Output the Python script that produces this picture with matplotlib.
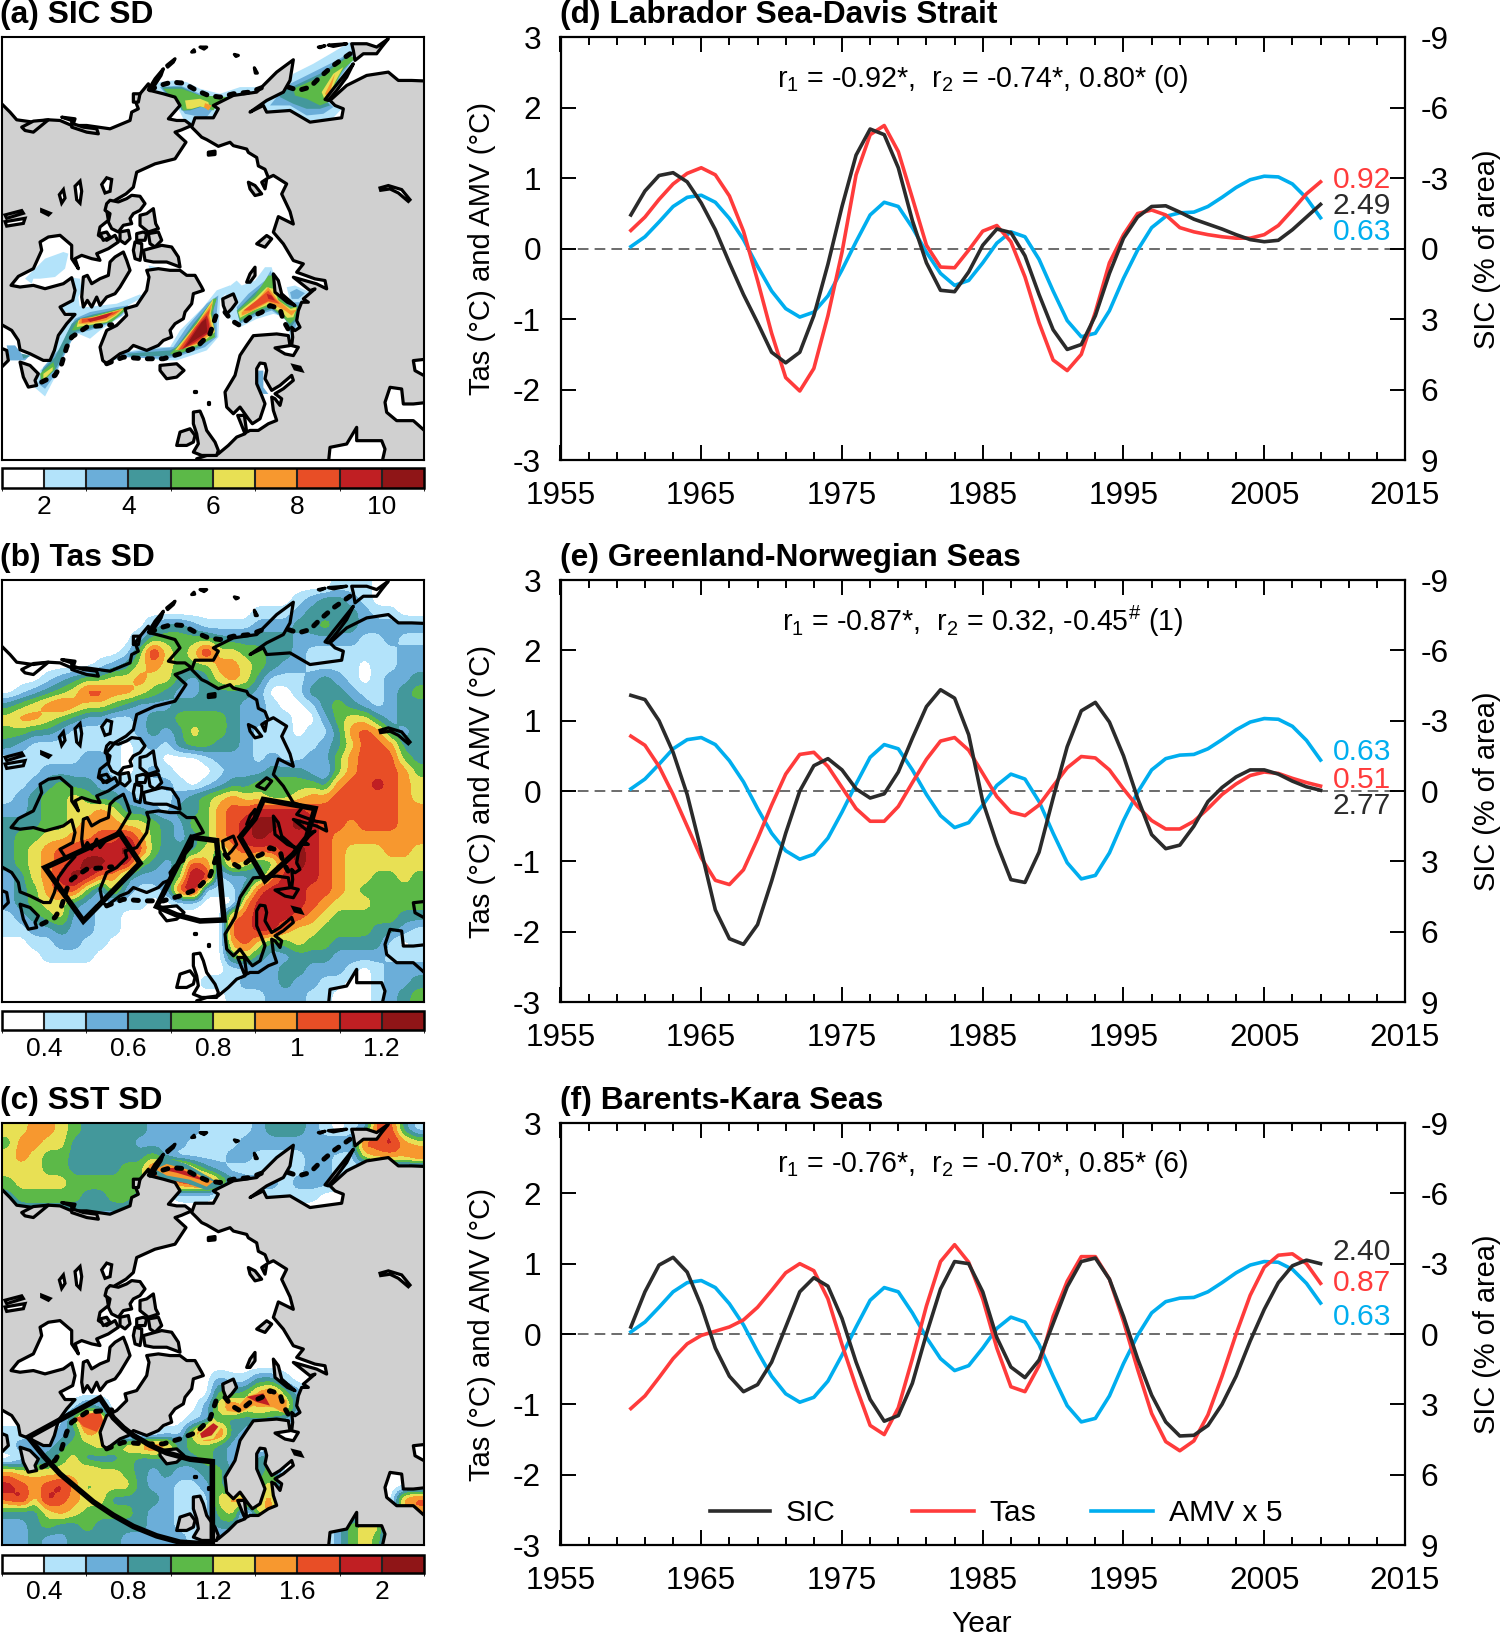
import matplotlib
matplotlib.use('Agg')
import matplotlib.pyplot as plt
import numpy as np
from matplotlib.patches import Polygon
from matplotlib.colors import ListedColormap, BoundaryNorm
from matplotlib.cm import ScalarMappable

plt.rcParams['font.family'] = ['Liberation Sans', 'DejaVu Sans']
plt.rcParams['mathtext.fontset'] = 'custom'
plt.rcParams['mathtext.rm'] = 'Liberation Sans'
plt.rcParams['mathtext.it'] = 'Liberation Sans'
plt.rcParams['mathtext.default'] = 'regular'
plt.rcParams['axes.unicode_minus'] = False

W, H = 1500, 1635

years = np.arange(1960, 2010)
amv = [.03, .17, .38, .6, .73, .76, .66, .43, .13, -.25, -.6, -.85, -.97, -.9, -.67, -.3, .1, .48, .66, .6,
       .3, -.05, -.35, -.52, -.45, -.2, .08, .24, .17, -.15, -.6, -1.02, -1.25, -1.2, -.88, -.42, -.02, .3, .46, .51,
       .52, .6, .73, .87, .98, 1.03, 1.02, .92, .72, .44]
sic_d = [.48, .82, 1.04, 1.08, .95, .65, .27, -.2, -.65, -1.05, -1.47, -1.62, -1.47, -.95, -.22, .6, 1.33, 1.7, 1.62, 1.15,
         .4, -.2, -.59, -.61, -.33, .05, .28, .23, -.1, -.65, -1.15, -1.43, -1.36, -.95, -.35, .15, .45, .6, .61, .52,
         .42, .35, .28, .2, .13, .1, .12, .27, .45, .63]
tas_d = [.26, .45, .7, .92, 1.07, 1.15, 1.05, .75, .25, -.45, -1.2, -1.83, -2.02, -1.7, -.95, -.05, 1.05, 1.62, 1.75, 1.38,
         .72, .05, -.26, -.27, -.02, .25, .33, .1, -.4, -1.05, -1.58, -1.73, -1.5, -.9, -.2, .2, .5, .55, .48, .3,
         .24, .2, .17, .15, .15, .2, .33, .55, .78, .95]
sic_e = [1.36, 1.3, 1.0, .55, -.05, -.85, -1.69, -2.1, -2.18, -1.9, -1.28, -.6, 0, .36, .46, .3, .03, -.1, -.04, .27,
         .75, 1.2, 1.44, 1.32, .8, -.15, -.75, -1.26, -1.3, -.87, -.1, .63, 1.14, 1.26, .98, .5, -.1, -.62, -.82, -.77,
         -.5, -.15, .05, .2, .3, .3, .24, .14, .06, .01]
tas_e = [.78, .65, .35, -.05, -.5, -.95, -1.27, -1.33, -1.12, -.68, -.2, .24, .52, .55, .35, .05, -.25, -.43, -.43, -.22,
         .12, .45, .71, .76, .58, .25, -.08, -.3, -.35, -.2, .07, .33, .49, .47, .3, .03, -.22, -.42, -.54, -.54,
         -.43, -.25, -.05, .1, .22, .27, .25, .18, .12, .07]
sic_f = [.1, .6, .98, 1.09, .88, .4, -.2, -.6, -.82, -.72, -.4, .1, .6, .8, .68, .22, -.4, -.93, -1.24, -1.16,
         -.7, 0, .64, 1.03, 1.0, .6, -.05, -.47, -.62, -.37, .15, .67, 1.03, 1.08, .78, .25, -.35, -.87, -1.25, -1.45,
         -1.44, -1.3, -1.0, -.6, -.1, .35, .73, .97, 1.05, 1.0]
tas_f = [-1.06, -.88, -.62, -.35, -.14, -.02, .04, .1, .2, .38, .62, .87, 1.0, .9, .5, -.15, -.75, -1.3, -1.43, -1.05,
         -.35, .4, 1.03, 1.27, 1.02, .5, -.2, -.75, -.82, -.45, .25, .75, 1.1, 1.1, .78, .18, -.5, -1.13, -1.53, -1.66,
         -1.52, -1.15, -.6, 0, .55, .95, 1.12, 1.14, 1.0, .72]

band_colors = ['#ffffff', '#b3e3fa', '#6baed9', '#43989b', '#5cb948', '#e8e054', '#f7982f', '#e84e26', '#c01f23', '#8f1517']
sic_levels = np.arange(1, 12)
tas_levels = np.arange(0.3, 1.35, 0.1)
sst_levels = np.arange(0.2, 2.3, 0.2)


# crops of the reference -> panel (a) map units
def z7(pts):
    return [(x, 562 + 0.987 * y) for x, y in pts]
def z8(pts):
    return [(x, 89 + 0.987 * y) for x, y in pts]
def z9(pts):
    return [(x + 600, 681 + 0.987 * y) for x, y in pts]
def z2(pts):
    return [(x, y - 8) for x, y in pts]
def z3(pts):
    return [(x, 110 + (y - 108) * 1.0373) for x, y in pts]
def zA(pts):
    return [(x + 270, 562 + 0.987 * y) for x, y in pts]
def zB(pts):
    return [(x + 495, 1006 + 0.987 * y) for x, y in pts]


north_america = (
    z8([(-10, 220), (5, 220), (30, 245), (50, 268), (100, 275), (145, 268), (180, 270), (215, 285), (260, 285), (330, 295),
        (390, 270), (395, 245), (415, 235), (405, 210), (420, 190), (445, 160), (450, 180), (490, 190), (525, 200),
        (540, 225), (505, 265), (530, 270), (555, 270), (575, 285), (545, 298), (525, 305), (558, 335), (525, 385),
        (465, 400), (410, 425), (400, 470), (378, 490)])
    + z7([(345, 30), (320, 60), (325, 90), (300, 110), (295, 135), (320, 150), (345, 135), (355, 155), (340, 165),
          (325, 175), (290, 190), (300, 210), (275, 205), (245, 195), (225, 205), (235, 235), (215, 205), (215, 165),
          (180, 135), (145, 140), (120, 155), (125, 180), (100, 235), (55, 258), (33, 285), (60, 290), (100, 285),
          (135, 295), (190, 280), (215, 262), (225, 300), (218, 330), (180, 350), (195, 372), (225, 372), (200, 400),
          (175, 435), (163, 480), (150, 510), (130, 510), (90, 490), (60, 478), (55, 450), (35, 420), (5, 403), (-10, 403)]))
baffin = z7([(250, 350), (245, 320), (250, 260), (262, 255), (275, 280), (300, 265), (325, 255), (330, 215), (345, 200),
             (370, 185), (380, 210), (390, 240), (360, 290), (345, 310), (320, 320), (300, 345), (290, 320), (275, 350),
             (262, 330)])
greenland = z7([(440, 240), (475, 235), (510, 240), (540, 240), (560, 255), (585, 255), (605, 290), (610, 300), (580, 310), (575, 340),
                (555, 365), (550, 385), (525, 400), (510, 420), (515, 440), (490, 450), (475, 465), (440, 480), (400, 465), (385, 480),
                (360, 490), (320, 520), (308, 510), (300, 470), (320, 420), (350, 405), (380, 375), (375, 355), (410, 345),
                (440, 300), (447, 260)])
iceland = z7([(480, 525), (530, 520), (552, 540), (530, 560), (500, 565), (480, 540)])
arctic_islands = [
    zA([(50, 40), (60, 30), (85, 35), (110, 25), (125, 15), (150, 18), (165, 40), (150, 60), (130, 70), (120, 85), (125, 100), (100, 105), (85, 125), (65, 115), (55, 95), (60, 70), (45, 60)]),
    zA([(150, 75), (170, 70), (190, 55), (197, 100), (205, 115), (175, 125), (150, 105)]),
    zA([(90, 125), (115, 120), (120, 145), (105, 160), (90, 150)]),
    zA([(30, 130), (50, 125), (60, 140), (40, 150)]),
    zA([(140, 130), (160, 125), (170, 130), (165, 150), (140, 150)]),
    zA([(175, 130), (205, 125), (215, 150), (195, 170), (180, 160)]),
    zA([(135, 155), (155, 160), (155, 180), (150, 210), (135, 205), (130, 180)]),
    zA([(160, 180), (215, 165), (245, 170), (265, 200), (270, 230), (230, 215), (190, 215), (165, 210)]),
    z7([(60, 515), (90, 525), (115, 550), (105, 570), (110, 585), (85, 590), (70, 560)]),
    z7([(-5, 470), (20, 480), (25, 510), (5, 530), (-5, 530)]),
    z9([(170, 40), (200, 15), (215, 25), (195, 50)]),
    z9([(220, 130), (235, 150), (245, 190), (285, 225), (262, 215), (225, 185)]),
    z9([(140, 155), (150, 130), (165, 110), (165, 135), (150, 155)]),
    z9([(68, 205), (100, 190), (110, 215), (95, 235), (80, 250), (70, 225)]),
    z8([(625, 365), (645, 362), (645, 372), (625, 374)]),
    z8([(745, 455), (765, 465), (785, 490), (765, 495), (750, 475)]),
    z8([(785, 455), (800, 445), (795, 475)]),
    zB([(85, 215), (105, 212), (115, 235), (125, 270), (150, 305), (160, 330), (155, 345), (110, 345), (85, 335), (100, 310), (95, 280), (85, 250)]),
    zB([(35, 315), (45, 275), (75, 265), (90, 285), (85, 305), (65, 315)]),
    zB([(87, 152), (92, 152), (92, 156), (87, 156)]),
    zB([(128, 185), (132, 185), (132, 190), (128, 190)]),
    z8([(975, 207), (1000, 175), (1040, 125), (1060, 100), (1040, 140), (1010, 180), (985, 210)]),
    z8([(1055, 40), (1100, 40), (1130, 50), (1165, 25), (1145, 50), (1130, 70), (1090, 70), (1065, 90), (1060, 60)]),
    z8([(445, 178), (465, 145), (490, 115), (483, 135), (455, 178)]),
    z8([(500, 105), (525, 85), (520, 95), (503, 110)]),
    z8([(575, 65), (582, 58), (584, 64)]),
    z8([(600, 50), (620, 50), (612, 56)]),
    z8([(703, 72), (715, 75), (708, 78)]),
    z8([(763, 112), (772, 128), (766, 128)]),
    z8([(955, 50), (975, 46), (960, 52)]),
    z8([(985, 44), (1040, 40), (1000, 48)]),
    z8([(65, 290), (100, 272), (145, 268), (100, 305), (75, 300)]),
    z8([(185, 260), (225, 265), (220, 280), (250, 290), (290, 295), (295, 310), (260, 305), (215, 290), (215, 270)]),
    z8([(400, 190), (420, 190), (415, 215), (400, 215)]),
]
eurasia_east = z8([(575, 290), (585, 262), (640, 262), (655, 235), (640, 225), (700, 195), (770, 185), (785, 170), (830, 125),
                   (880, 88), (870, 150), (850, 185), (800, 210), (750, 245), (790, 225), (800, 245), (870, 240), (930, 275),
                   (1025, 262), (1030, 235), (1005, 225), (990, 210), (1040, 165), (1100, 135), (1165, 125), (1195, 150), (1235, 150), (1285, 152)])
eurasia_south = z9([(685, 385), (640, 390), (645, 420), (685, 442), (685, 515), (640, 520), (610, 520), (605, 475), (570, 470),
                    (555, 515), (560, 545), (590, 570), (640, 570), (685, 610), (685, 700), (545, 700), (555, 655), (545, 630),
                    (470, 630), (470, 590), (440, 640), (390, 650), (385, 700), (-10, 700)])
europe_west = zB([(265, -14), (245, 15), (225, 45), (220, 65), (210, 105), (180, 155), (185, 200), (205, 220), (225, 200), (250, 235),
                  (262, 250), (285, 235), (300, 190), (290, 165), (275, 130), (275, 85), (285, 68), (300, 70), (305, 90), (300, 115),
                  (320, 150), (345, 135), (380, 105), (385, 120), (355, 145), (330, 160), (350, 175), (345, 195), (330, 175), (320, 170),
                  (325, 210), (335, 240), (310, 250), (280, 270), (255, 270), (245, 275), (238, 225), (218, 225), (240, 280), (215, 290),
                  (190, 315), (160, 340), (125, 345), (95, 355)])
europe_north = z9([(230, 310), (265, 315), (270, 345), (225, 352), (255, 370), (280, 375), (295, 350), (275, 345), (278, 320),
                   (275, 290), (285, 300), (300, 290), (290, 270), (295, 240), (305, 215), (325, 215), (310, 205), (345, 175),
                   (330, 180), (280, 140), (350, 160), (380, 175), (375, 150), (345, 145), (290, 125), (310, 100), (280, 90),
                   (250, 40), (220, 5)])
eurasia_arctic = [(835, 640), (880, 662), (870, 625), (845, 573), (860, 543), (820, 518), (805, 525), (795, 500), (775, 490), (770, 465),
                  (745, 450), (740, 440), (700, 430), (690, 420), (655, 432), (620, 412), (605, 405), (590, 390)]
eurasia = eurasia_east + eurasia_south + europe_west[::-1] + europe_north + eurasia_arctic

lakes = [
    [(178, 575), (190, 560), (195, 585), (185, 600)],
    [(225, 550), (240, 535), (245, 565), (240, 600), (230, 590)],
    [(305, 545), (320, 525), (335, 530), (330, 565), (315, 570)],
    [(15, 635), (65, 622), (70, 630), (20, 645)],
    [(15, 655), (75, 645), (70, 660), (20, 668)],
    [(125, 620), (150, 630), (145, 635), (125, 625)],
    [(1140, 555), (1165, 548), (1205, 560), (1230, 590), (1225, 595), (1195, 570), (1170, 558), (1142, 562)],
    z9([(280, 405), (300, 410), (305, 420), (285, 415)]),
]

edge_bering = z8([(450, 178), (480, 165), (515, 155), (550, 158), (590, 180), (625, 195), (660, 200), (700, 190), (750, 185), (790, 170)])
edge_okhotsk = z8([(865, 170), (895, 180), (930, 170), (960, 140), (1000, 105), (1050, 70)])
edge_labrador = z7([(125, 575), (165, 555), (185, 520), (200, 470), (215, 440), (260, 410), (335, 403)])
edge_greenland = z7([(320, 520), (370, 500), (430, 505), (490, 505), (540, 490), (590, 470), (630, 430), (645, 385), (655, 355)])
edge_barents = z9([(75, 245), (95, 270), (120, 285), (150, 260), (185, 245), (210, 225), (240, 235), (250, 270), (270, 305)])
ice_edges = [edge_bering, edge_okhotsk, edge_labrador, edge_greenland, edge_barents]

box_labrador = z2([(135, 970), (360, 868), (420, 957), (250, 1128)])
box_greenland = z2([(575, 880), (650, 890), (672, 1125), (600, 1128), (530, 1110), (470, 1085)])
box_barents = z2([(790, 768), (945, 795), (920, 880), (880, 930), (795, 1008), (720, 880), (765, 825)])
box_sst = z3([(85, 1005), (300, 893), (340, 950), (370, 978), (400, 1000), (450, 1028), (500, 1050), (570, 1068), (637, 1075), (637, 1310),
              (590, 1308), (540, 1305), (470, 1287), (400, 1260), (340, 1228), (280, 1190), (230, 1150), (180, 1110), (130, 1058)])

sic_bands = [
    (1, z7([(178, 440), (190, 420), (205, 385), (215, 372), (190, 360), (215, 345), (260, 350), (350, 340), (420, 312), (430, 320), (385, 345), (370, 375), (330, 400), (300, 420), (270, 445), (235, 430), (215, 450), (195, 490), (165, 560), (135, 618), (105, 592), (120, 540), (150, 510), (170, 470)])),
    (2, z7([(185, 470), (200, 430), (225, 385), (270, 365), (350, 350), (385, 345), (365, 375), (325, 400), (270, 420), (225, 430), (195, 490), (160, 560), (135, 595), (115, 580), (130, 530), (165, 490)])),
    (3, z7([(190, 450), (215, 400), (235, 385), (280, 372), (360, 355), (375, 358), (330, 395), (270, 415), (225, 425), (195, 480), (165, 540), (125, 570), (125, 540), (165, 500)])),
    (4, z7([(230, 395), (285, 375), (370, 352), (378, 358), (335, 395), (270, 405), (225, 420), (215, 420)])),
    (4, z7([(120, 550), (160, 515), (165, 535), (125, 580)])),
    (5, z7([(235, 390), (290, 377), (372, 354), (350, 375), (320, 395), (260, 405), (230, 410)])),
    (5, z7([(130, 550), (158, 530), (158, 540), (130, 568)])),
    (6, z7([(240, 385), (290, 378), (370, 355), (345, 375), (318, 390), (260, 400), (235, 400)])),
    (7, z7([(245, 385), (290, 382), (360, 360), (340, 373), (300, 388), (245, 398)])),
    (8, z7([(262, 387), (340, 365), (320, 382), (270, 395)])),
    (2, z7([(20, 465), (45, 465), (65, 490), (90, 495), (75, 510), (30, 510)])),
    (3, z7([(65, 490), (90, 497), (70, 505)])),
    (1, z7([(105, 235), (135, 205), (190, 185), (205, 190), (195, 235), (165, 260), (120, 265), (100, 265), (95, 280), (75, 265)])),
    (1, z7([(215, 262), (240, 265), (245, 300), (235, 320), (240, 355), (195, 365), (180, 350), (220, 330)])),
    (1, z7([(445, 225), (500, 238), (470, 240), (450, 238)])),
    (1, z7([(300, 490), (380, 485), (440, 470), (510, 470), (540, 420), (610, 350), (650, 300), (690, 285), (690, 295), (660, 330), (655, 440), (620, 480), (530, 510), (480, 510), (440, 500), (400, 495), (340, 510)])),
    (2, z7([(350, 490), (470, 475), (520, 470), (560, 410), (620, 340), (655, 315), (650, 370), (650, 440), (615, 470), (530, 500), (480, 505), (370, 500)])),
    (3, z7([(380, 490), (510, 480), (530, 470), (580, 400), (630, 340), (650, 320), (640, 360), (645, 430), (600, 470), (530, 495), (490, 497), (390, 497)])),
    (4, z7([(510, 490), (545, 455), (590, 395), (640, 325), (650, 325), (635, 370), (645, 440), (600, 465), (530, 492)])),
    (5, z7([(525, 480), (590, 400), (640, 325), (632, 370), (645, 425), (600, 462)])),
    (6, z7([(530, 480), (590, 402), (638, 335), (628, 375), (640, 425), (595, 460)])),
    (7, z7([(535, 480), (585, 410), (630, 355), (625, 380), (635, 420), (590, 458)])),
    (8, z7([(545, 478), (590, 410), (620, 375), (625, 390), (630, 425), (585, 455)])),
    (9, z7([(555, 470), (605, 395), (618, 385), (622, 425), (580, 452)])),
    (1, z9([(85, 170), (110, 150), (125, 165), (165, 150), (195, 110), (215, 110), (232, 170), (270, 210), (260, 170), (285, 165), (330, 185), (305, 205), (310, 240), (290, 280), (300, 300), (270, 325), (262, 260), (220, 250), (170, 265), (120, 290), (85, 260), (70, 210)])),
    (2, z9([(110, 230), (145, 190), (195, 150), (212, 120), (230, 180), (270, 215), (300, 215), (295, 260), (285, 295), (270, 305), (260, 270), (215, 240), (170, 255), (120, 280)])),
    (2, z9([(270, 185), (290, 175), (315, 188), (295, 205), (275, 205)])),
    (3, z9([(110, 240), (160, 190), (205, 150), (218, 125), (232, 190), (272, 225), (295, 225), (290, 265), (270, 295), (255, 265), (215, 235), (165, 250), (120, 275)])),
    (4, z9([(112, 240), (165, 195), (205, 135), (218, 135), (235, 200), (270, 230), (292, 228), (285, 265), (270, 280), (250, 260), (210, 225), (165, 245), (120, 270)])),
    (5, z9([(115, 245), (165, 205), (200, 170), (222, 175), (235, 210), (272, 235), (290, 230), (280, 260), (262, 262), (250, 250), (205, 222), (160, 240), (120, 262)])),
    (6, z9([(125, 245), (170, 210), (205, 170), (230, 205), (272, 240), (290, 238), (275, 255), (255, 240), (205, 215), (150, 245), (125, 255)])),
    (7, z9([(130, 240), (175, 205), (205, 180), (225, 205), (240, 220), (205, 212), (150, 240)])),
    (8, z9([(200, 190), (215, 195), (225, 210), (205, 205)])),
    (2, z9([(170, 470), (175, 420), (190, 420), (190, 470), (205, 490), (190, 490)])),
    (1, z8([(465, 165), (480, 155), (520, 150), (560, 155), (600, 175), (660, 190), (720, 170), (770, 170), (790, 180), (740, 200), (700, 210), (650, 240), (655, 260), (620, 275), (580, 265), (575, 290), (550, 265), (530, 225), (510, 205), (470, 185)])),
    (2, z8([(480, 170), (540, 165), (600, 190), (650, 205), (700, 195), (680, 210), (640, 235), (620, 260), (580, 255), (555, 250), (530, 215), (500, 195)])),
    (3, z8([(485, 170), (545, 170), (600, 195), (680, 200), (640, 225), (600, 230), (570, 240), (545, 240), (530, 205), (500, 190)])),
    (4, z8([(490, 175), (545, 175), (600, 195), (690, 200), (650, 225), (640, 240), (600, 228), (570, 238), (550, 240), (535, 210), (510, 195)])),
    (5, z8([(555, 210), (600, 205), (625, 215), (630, 235), (600, 228), (575, 235), (560, 235)])),
    (6, z8([(615, 218), (635, 225), (625, 240), (612, 230)])),
    (1, z8([(860, 180), (880, 130), (940, 100), (1000, 65), (1050, 35), (1070, 75), (1050, 110), (1030, 130), (990, 210), (1025, 235), (1000, 262), (930, 270), (870, 240), (800, 240), (775, 225), (820, 195)])),
    (2, z8([(830, 200), (870, 160), (930, 130), (1010, 90), (1060, 60), (1050, 100), (1020, 140), (985, 215), (1000, 230), (970, 250), (920, 255), (870, 225), (810, 225)])),
    (3, z8([(835, 190), (875, 170), (960, 130), (1050, 70), (1055, 90), (1020, 130), (975, 205), (990, 225), (960, 235), (920, 235), (880, 220), (840, 200)])),
    (4, z8([(880, 175), (960, 140), (1050, 75), (1065, 85), (1030, 115), (985, 200), (985, 215), (960, 225), (920, 205), (885, 195)])),
    (5, z8([(965, 185), (1000, 130), (1030, 110), (1005, 155), (985, 205), (975, 210)])),
    (6, z8([(975, 190), (1005, 130), (985, 205)])),
]

sst_bands = [
    (3, z3([(450, 240), (490, 205), (560, 225), (640, 270), (680, 285), (620, 300), (560, 280), (480, 265)])),
    (6, z3([(465, 240), (500, 225), (560, 240), (640, 275), (620, 290), (570, 270), (500, 258)])),
    (8, z3([(480, 240), (530, 235), (590, 258), (630, 280), (600, 270), (530, 250)])),
    (5, z3([(590, 1000), (640, 950), (665, 975), (640, 1010), (600, 1015)])),
    (8, z3([(600, 995), (640, 965), (655, 975), (635, 1000), (605, 1008)])),
    (6, z3([(670, 880), (700, 930), (740, 890), (800, 870), (860, 900), (860, 940), (820, 920), (760, 915), (720, 935), (680, 930)])),
    (8, z3([(740, 890), (790, 880), (810, 915), (770, 905)])),
    (7, z3([(225, 950), (300, 930), (310, 960), (290, 990), (250, 975)])),
]

# colour class (0-9) per grid cell
tas_grid = [
    "0000000000" "0000000000" "0000011100" "00",
    "0000000000" "0000000000" "0012332100" "00",
    "0000000000" "0000000001" "1123333211" "00",
    "0000000000" "0233211112" "2233433222" "22",
    "0000000000" "2444443333" "3322222112" "11",
    "0000000001" "4854585544" "3321111111" "22",
    "0000000123" "5654446654" "3221111011" "22",
    "0001234455" "6553235653" "1112321012" "23",
    "0123457766" "5432233332" "0013332112" "34",
    "3456765543" "2223333322" "1001343212" "33",
    "5665432211" "2334444322" "1100245532" "33",
    "4433211111" "2323544321" "1101136763" "23",
    "3211111110" "1213443321" "1111235776" "33",
    "1111112210" "1100012221" "2112246777" "43",
    "1112222210" "1210001222" "3332146777" "64",
    "1123433221" "1121012334" "4444367787" "65",
    "1234454332" "1112345655" "4456677777" "65",
    "2234455653" "3213346778" "8887777777" "66",
    "3334456665" "5432446789" "9898776777" "66",
    "3445566778" "6432346789" "8888766666" "66",
    "3456778889" "7433354677" "7898765556" "65",
    "3456789988" "4323763653" "4798765555" "55",
    "2356898663" "2224981223" "6888765544" "54",
    "2346774252" "1127911137" "8887765444" "44",
    "2345532111" "1001100068" "8887655544" "44",
    "1234522110" "0000000678" "8876544444" "33",
    "1122322110" "0000000778" "8655444433" "21",
    "0011221100" "0000000675" "3454433331" "01",
    "0001111000" "0000000453" "2233322221" "11",
    "0000000000" "0000000112" "2332221012" "22",
    "0000000000" "0000011122" "2322110012" "23",
    "0000000000" "0000000111" "2221100012" "34",
]
blank_row = "0" * 32
sst_grid = [
    "5566543333" "3222211112" "3332101277" "31",
    "4665533333" "2222111122" "2222232778" "65",
    "5654433333" "3421111221" "1112211566" "67",
    "5554433334" "4788532111" "1112211000" "00",
    "4555544444" "4667885322" "2122210000" "00",
    "3444443344" "3001110011" "1111000000" "00",
    "2333333333" "0000000000" "0000000000" "00",
    blank_row, blank_row, blank_row, blank_row, blank_row, blank_row,
    blank_row, blank_row, blank_row, blank_row, blank_row, blank_row,
    "0000000000" "0000002113" "3100000000" "00",
    "0000000000" "0000004346" "7420000000" "00",
    "0000013200" "0000025756" "5620000000" "00",
    "0000148700" "0000124333" "3210000000" "00",
    "1111236500" "0011587320" "0000000000" "00",
    "1222344545" "6763443210" "0000000000" "00",
    "0123453334" "3333343213" "4000000000" "00",
    "6555556554" "3232234203" "4000000000" "00",
    "8767864555" "3221124104" "5000000000" "00",
    "7858765533" "3321115675" "6000000000" "67",
    "3335654444" "3221114505" "6000000000" "56",
    "2234334333" "3221113300" "0000024550" "00",
    "2232233332" "2222111100" "0000024540" "00",
]

fig = plt.figure(figsize=(W / 100, H / 100), dpi=100)


def px_axes(l, t, r, b):
    return fig.add_axes([l / W, 1 - b / H, (r - l) / W, (b - t) / H])


def fig_text(x, y, s, **kw):
    return fig.text(x / W, 1 - y / H, s, **kw)


def grid_field(rows, start, step):
    z = np.array([[start + step * int(c) for c in r] for r in rows])
    z = np.pad(z, 1, mode='edge')
    xs = np.linspace(5, 1272, 33)
    ys = np.linspace(110, 1360, 33)
    xc = np.r_[5, (xs[:-1] + xs[1:]) / 2, 1272]
    yc = np.r_[110, (ys[:-1] + ys[1:]) / 2, 1360]
    # finer grid and a light box filter so contours are not diamond shaped
    xf = np.linspace(5, 1272, 133)
    yf = np.linspace(110, 1360, 133)
    zf = np.array([np.interp(xf, xc, row) for row in z])
    zf = np.array([np.interp(yf, yc, col) for col in zf.T]).T
    kernel = np.ones(3) / 3
    zp = np.pad(zf, 1, mode='edge')
    zp = np.apply_along_axis(lambda v: np.convolve(v, kernel, mode='same'), 0, zp)
    zp = np.apply_along_axis(lambda v: np.convolve(v, kernel, mode='same'), 1, zp)
    return xf, yf, zp[1:-1, 1:-1]


def draw_map(top, bot, cb_top, cb_bot, levels, ticks, ticklabels, land_fill=True):
    ax = px_axes(1.7, top, 424, bot)
    ax.set_xlim(5, 1272)
    ax.set_ylim(1360, 110)
    ax.set_xticks([])
    ax.set_yticks([])
    for s in ax.spines.values():
        s.set_linewidth(1.5)
        s.set_zorder(10)
    fc = '#d0d0d0' if land_fill else 'none'
    for poly in [north_america, eurasia, greenland, baffin, iceland] + arctic_islands:
        ax.add_patch(Polygon(poly, closed=True, facecolor=fc, edgecolor='black', lw=2.3, zorder=3, joinstyle='round'))
    for poly in lakes:
        ax.add_patch(Polygon(poly, closed=True, facecolor='white' if land_fill else 'none', edgecolor='black', lw=2.3, zorder=3))
    for line in ice_edges:
        xs, ys = zip(*line)
        ax.plot(xs, ys, color='black', lw=3.6, linestyle=(0, (1.0, 1.8)), dash_capstyle='round', zorder=5)
    cax = px_axes(1.7, cb_top, 424, cb_bot)
    sm = ScalarMappable(norm=BoundaryNorm(levels, 10), cmap=ListedColormap(band_colors))
    cb = fig.colorbar(sm, cax=cax, orientation='horizontal', boundaries=levels, ticks=ticks, drawedges=True, spacing='uniform')
    cb.ax.set_xticklabels(ticklabels)
    cb.ax.tick_params(length=0, labelsize=19, pad=5)
    cb.outline.set_linewidth(1.8)
    cb.dividers.set_linewidth(1.5)
    cb.dividers.set_color('#222222')
    return ax


# map panels
ax_a = draw_map(37.5, 460, 468, 488, sic_levels, [2, 4, 6, 8, 10], ['2', '4', '6', '8', '10'])
for lev, poly in sic_bands:
    ax_a.add_patch(Polygon(poly, closed=True, facecolor=band_colors[lev], edgecolor='none', zorder=1))

ax_b = draw_map(580, 1002, 1011, 1030, tas_levels, [.4, .6, .8, 1, 1.2], ['0.4', '0.6', '0.8', '1', '1.2'], land_fill=False)
xc, yc, zz = grid_field(tas_grid, 0.35, 0.1)
ax_b.contourf(xc, yc, zz, levels=tas_levels, colors=band_colors, zorder=1)
for box in [box_labrador, box_greenland, box_barents]:
    ax_b.add_patch(Polygon(box, closed=True, facecolor='none', edgecolor='black', lw=4.0, zorder=6, joinstyle='miter'))

ax_c = draw_map(1123, 1545, 1555, 1573, sst_levels, [.4, .8, 1.2, 1.6, 2], ['0.4', '0.8', '1.2', '1.6', '2'])
xc, yc, zz = grid_field(sst_grid, 0.3, 0.2)
ax_c.contourf(xc, yc, zz, levels=sst_levels, colors=band_colors, zorder=1)
for lev, poly in sst_bands:
    ax_c.add_patch(Polygon(poly, closed=True, facecolor=band_colors[lev], edgecolor='none', zorder=2))
ax_c.add_patch(Polygon(box_sst, closed=True, facecolor='none', edgecolor='black', lw=4.0, zorder=6, joinstyle='miter'))

title_kw = dict(fontsize=22.9, fontweight='bold', va='center', ha='left')
fig_text(0, 15, '(a) SIC SD', **title_kw)
fig_text(0, 558, '(b) Tas SD', **title_kw)
fig_text(0, 1101, '(c) SST SD', **title_kw)

# time series panels
BLACK, RED, CYAN = '#2b2b2b', '#ff3b3b', '#00aeef'


def draw_series(top, bot, sic, tas, title, rtext, tags):
    ax = px_axes(560.5, top, 1405, bot)
    ax.axhline(0, color='#444444', lw=1.1, dashes=(7, 4), zorder=1)
    ax.plot(years, amv, color=CYAN, lw=2.6, zorder=2)
    ax.plot(years, tas, color=RED, lw=2.6, zorder=3)
    ax.plot(years, sic, color=BLACK, lw=2.6, zorder=4)
    ax.set_xlim(1955, 2015)
    ax.set_ylim(-3, 3)
    ax.set_xticks(np.arange(1955, 2016, 10))
    ax.set_xticks(np.arange(1955, 2016, 2), minor=True)
    ax.set_yticks(np.arange(-3, 4))
    ax.tick_params(axis='x', which='major', direction='in', top=True, length=11, width=1.4, labelsize=22.7, pad=15)
    ax.tick_params(axis='x', which='minor', direction='in', top=True, length=6, width=1.4)
    ax.tick_params(axis='y', direction='in', length=11, width=1.4, labelsize=22.7, pad=14)
    for s in ax.spines.values():
        s.set_linewidth(1.6)
    ax2 = ax.twinx()
    ax2.set_ylim(9, -9)
    ax2.set_yticks(np.arange(-9, 10, 3))
    ax2.tick_params(axis='y', direction='in', length=11, width=1.4, labelsize=22.7, pad=11)
    for s in ax2.spines.values():
        s.set_visible(False)
    mid = (top + bot) / 2
    fig_text(482, mid, 'Tas (°C) and AMV (°C)', rotation=90, fontsize=21.1, ha='center', va='center')
    fig_text(1487, mid, 'SIC (% of area)', rotation=90, fontsize=20.9, ha='center', va='center')
    fig_text(560, top - 22, title, fontsize=22.9, fontweight='bold', ha='left', va='center')
    ax.text(1985, 2.41, rtext, fontsize=20.6, ha='center', va='center')
    for txt, col, y in tags:
        ax.text(2014, y - .03, txt, color=col, fontsize=21.6, ha='right', va='center')
    return ax


draw_series(37.5, 460, sic_d, tas_d, '(d) Labrador Sea-Davis Strait',
            r'r$_1$ = -0.92*,  r$_2$ = -0.74*, 0.80* (0)',
            [('0.92', RED, 1.0), ('2.49', BLACK, .64), ('0.63', CYAN, .27)])
draw_series(580, 1002, sic_e, tas_e, '(e) Greenland-Norwegian Seas',
            r'r$_1$ = -0.87*,  r$_2$ = 0.32, -0.45$^{\#}$ (1)',
            [('0.63', CYAN, .59), ('0.51', RED, .19), ('2.77', BLACK, -.19)])
ax_f = draw_series(1123, 1545, sic_f, tas_f, '(f) Barents-Kara Seas',
                   r'r$_1$ = -0.76*,  r$_2$ = -0.70*, 0.85* (6)',
                   [('2.40', BLACK, 1.2), ('0.87', RED, .76), ('0.63', CYAN, .27)])

for x0, x1, xt, col, lab in [(1965.6, 1969.9, 1971, BLACK, 'SIC'), (1980, 1984.4, 1985.5, RED, 'Tas'), (1992.7, 1997.1, 1998.2, CYAN, 'AMV x 5')]:
    ax_f.plot([x0, x1], [-2.52, -2.52], color=col, lw=2.6)
    ax_f.text(xt, -2.55, lab, fontsize=21.6, ha='left', va='center')

fig_text(982, 1624, 'Year', fontsize=21.6, ha='center', va='center')

fig.savefig('out.png', dpi=100)
